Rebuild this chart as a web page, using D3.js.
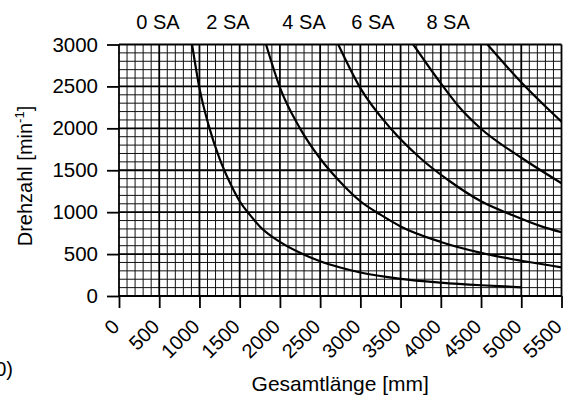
<!DOCTYPE html>
<html><head><meta charset="utf-8">
<script src="https://cdn.jsdelivr.net/npm/d3@7"></script>
<style>
body{margin:0;background:#fff}
svg{display:block}
text{font-family:"Liberation Sans",Arial,sans-serif;fill:#000}
</style>
</head><body>
<svg id="chart" width="567" height="396"></svg>
<script>
// ---- data ----
const xTickValues = [0,500,1000,1500,2000,2500,3000,3500,4000,4500,5000,5500];
const yTickValues = [0,500,1000,1500,2000,2500,3000];
const seriesNames = ["0 SA","2 SA","4 SA","6 SA","8 SA"];
const seriesLabelX = [485,1355,2300,3157,4090];
const series0 = [[908,3000],[1000,2480],[1125,2000],[1250,1640],[1375,1360],[1500,1130],[1625,970],[1750,830],[2000,645],[2250,515],[2500,415],[2750,340],[3000,280],[3500,205],[4000,160],[4500,128],[5000,104]];
const series1 = [[1828,3000],[2003,2480],[2250,2000],[2500,1640],[2750,1360],[3000,1130],[3250,970],[3500,830],[4000,645],[4500,515],[5000,420],[5500,342]];
const series2 = [[2725,3000],[3000,2480],[3375,2000],[3750,1640],[4125,1360],[4500,1130],[4875,970],[5250,830],[5500,760]];
const series3 = [[3658,3000],[4015,2518],[4250,2230],[4492,2001],[5011,1643],[5500,1345]];
const series4 = [[4580,3000],[5011,2538],[5259,2300],[5500,2080]];
const allSeries = [series0,series1,series2,series3,series4];
const xTitle = "Gesamtlänge [mm]";
const cornerText = "0)";

// ---- layout ----
const svg = d3.select("#chart");
const x = d3.scaleLinear().domain([0,5500]).range([119,561.5]);
const y = d3.scaleLinear().domain([0,3000]).range([296,44.5]);

// minor grid
const minorX = d3.range(0,5501,100).filter(v=>v%500!==0);
const minorY = d3.range(0,3001,100).filter(v=>v%500!==0);
const grid = svg.append("g");
grid.selectAll(".vx").data(minorX).join("line")
  .attr("x1",d=>x(d)).attr("x2",d=>x(d)).attr("y1",y(0)).attr("y2",y(3000))
  .attr("stroke","#111").attr("stroke-width",1);
grid.selectAll(".hy").data(minorY).join("line")
  .attr("y1",d=>y(d)).attr("y2",d=>y(d)).attr("x1",x(0)).attr("x2",x(5500))
  .attr("stroke","#111").attr("stroke-width",1);
// major grid
grid.selectAll(".mx").data(xTickValues).join("line")
  .attr("x1",d=>x(d)).attr("x2",d=>x(d)).attr("y1",y(0)).attr("y2",y(3000))
  .attr("stroke","#000").attr("stroke-width",1.8);
grid.selectAll(".my").data(yTickValues).join("line")
  .attr("y1",d=>y(d)).attr("y2",d=>y(d)).attr("x1",x(0)).attr("x2",x(5500))
  .attr("stroke","#000").attr("stroke-width",1.8);

// axes
const yAxis = d3.axisLeft(y).tickValues(yTickValues).tickSize(12).tickPadding(9).tickFormat(d3.format("d"));
const gy = svg.append("g").attr("transform",`translate(${x(0)},0)`).call(yAxis);
gy.select(".domain").remove();
gy.selectAll(".tick line").attr("stroke","#000").attr("stroke-width",1.8);
gy.selectAll(".tick text").attr("font-size",20.5).attr("font-family","Liberation Sans, Arial, sans-serif").attr("fill","#000");

const xAxis = d3.axisBottom(x).tickValues(xTickValues).tickSize(12).tickFormat(d3.format("d"));
const gx = svg.append("g").attr("transform",`translate(0,${y(0)})`).call(xAxis);
gx.select(".domain").remove();
gx.selectAll(".tick line").attr("stroke","#000").attr("stroke-width",1.8);
gx.selectAll(".tick text")
  .attr("font-size",20).attr("font-family","Liberation Sans, Arial, sans-serif").attr("fill","#000")
  .attr("text-anchor","end").attr("dy",null).attr("y",0)
  .attr("transform","translate(1,32) rotate(-45)");

// clip
svg.append("clipPath").attr("id","clip").append("rect")
  .attr("x",x(0)).attr("y",y(3000)).attr("width",x(5500)-x(0)).attr("height",y(0)-y(3000));

const line = d3.line().x(d=>x(d[0])).y(d=>y(d[1])).curve(d3.curveMonotoneX);
svg.append("g").attr("clip-path","url(#clip)").selectAll("path").data(allSeries).join("path")
  .attr("d",line).attr("fill","none").attr("stroke","#000").attr("stroke-width",2.2);

// series labels at top
svg.selectAll(".lab").data(seriesNames).join("text")
  .attr("x",(d,i)=>x(seriesLabelX[i])).attr("y",29)
  .attr("text-anchor","middle").attr("font-size",20).text(d=>d);

// axis titles
svg.append("text").attr("x",x(2750)).attr("y",391).attr("text-anchor","middle")
  .attr("font-size",21).text(xTitle);
const yt = svg.append("text").attr("transform","translate(32,176) rotate(-90)")
  .attr("text-anchor","middle").attr("font-size",20);
yt.append("tspan").text("Drehzahl [min");
yt.append("tspan").attr("font-size",13).attr("dy",-8).text("-1");
yt.append("tspan").attr("dy",8).text("]");

svg.append("text").attr("x",13).attr("y",376).attr("text-anchor","end").attr("font-size",20).text(cornerText);
</script>
</body></html>
